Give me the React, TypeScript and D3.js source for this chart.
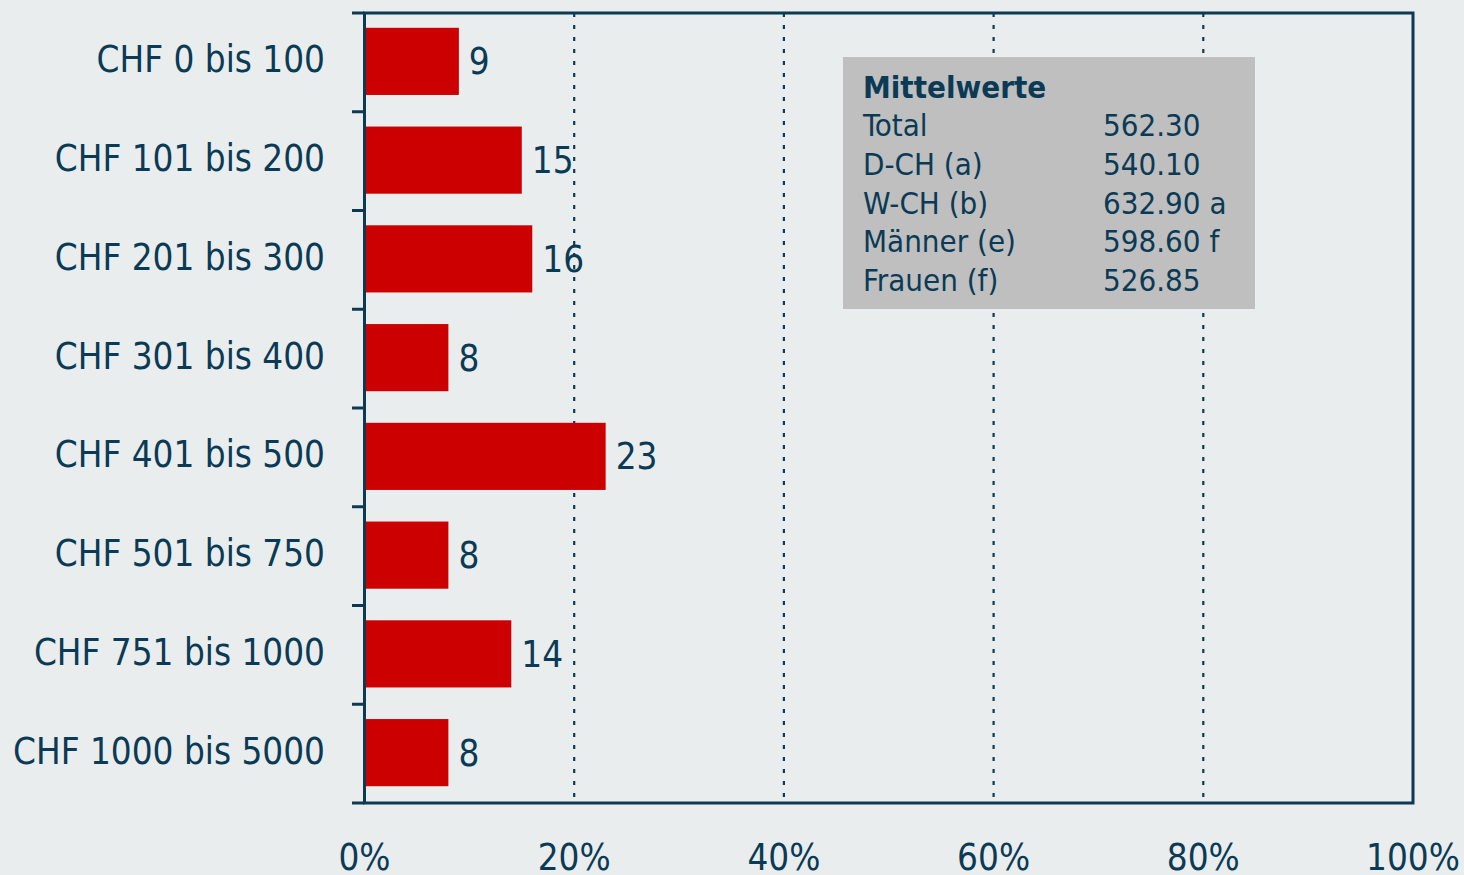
import React from "react";
import * as d3 from "d3";

const categories = [
  "CHF 0 bis 100",
  "CHF 101 bis 200",
  "CHF 201 bis 300",
  "CHF 301 bis 400",
  "CHF 401 bis 500",
  "CHF 501 bis 750",
  "CHF 751 bis 1000",
  "CHF 1000 bis 5000",
];
const values = [9, 15, 16, 8, 23, 8, 14, 8];
const xTicks = [0, 20, 40, 60, 80, 100];
const legendTitle = "Mittelwerte";
const legendLabels = ["Total", "D-CH (a)", "W-CH (b)", "Männer (e)", "Frauen (f)"];
const legendValues = ["562.30", "540.10", "632.90 a", "598.60 f", "526.85"];

const W = 1464;
const H = 875;
const left = 364.5;
const right = 1413;
const top = 13;
const bottom = 803;
const TEXT = "#0b3a55";
const LINE = "#0d3a52";
const FONT = "'DejaVu Sans Condensed', 'DejaVu Sans', sans-serif";

export default function App() {
  const x = d3.scaleLinear().domain([0, 100]).range([left, right]);
  const y = d3
    .scaleBand<string>()
    .domain(categories)
    .range([top, bottom])
    .paddingInner(0.32)
    .paddingOuter(0.16);
  const boundaries = d3.range(categories.length + 1).map((i) => top + i * ((bottom - top) / categories.length));
  const yc = (c: string) => (y(c) as number) + y.bandwidth() / 2 - 1;

  return (
    <svg
      width={W}
      height={H}
      style={{ position: "absolute", left: 0, top: 0, background: "#e9edee", fontFamily: FONT, fontStretch: "condensed" }}
    >
      <rect x={0} y={0} width={W} height={H} fill="#e9edee" />
      {xTicks.slice(1, -1).map((t) => (
        <line
          key={t}
          x1={x(t)}
          x2={x(t)}
          y1={top}
          y2={bottom}
          stroke={LINE}
          strokeWidth={2.2}
          strokeDasharray="4,8"
        />
      ))}
      {categories.map((c, i) => (
        <g key={c}>
          <rect x={x(0)} y={(y(c) as number) - 1} width={x(values[i]) - x(0)} height={y.bandwidth()} fill="#cc0000" />
          <text x={x(values[i]) + 10} y={yc(c) + 13} fontSize={36.5} fill={TEXT}>
            {values[i]}
          </text>
          <text x={325} y={yc(c) + 11} fontSize={36.5} fill={TEXT} textAnchor="end">
            {c}
          </text>
        </g>
      ))}
      <rect x={left} y={top} width={right - left} height={bottom - top} fill="none" stroke={LINE} strokeWidth={3} />
      {boundaries.map((b, i) => (
        <line key={i} x1={352} x2={left} y1={b} y2={b} stroke={LINE} strokeWidth={3} />
      ))}
      {xTicks.map((t) => (
        <text key={t} x={x(t)} y={870} fontSize={36.5} fill={TEXT} textAnchor="middle">
          {t}%
        </text>
      ))}
      <rect x={843} y={57} width={412} height={252} fill="#bfbfbf" />
      <text x={863} y={98} fontSize={31} fontWeight="bold" fill={TEXT}>
        {legendTitle}
      </text>
      {legendLabels.map((l, i) => (
        <g key={l}>
          <text x={863} y={136 + i * 38.8} fontSize={31} fill={TEXT}>
            {l}
          </text>
          <text x={1103} y={136 + i * 38.8} fontSize={31} fill={TEXT}>
            {legendValues[i]}
          </text>
        </g>
      ))}
    </svg>
  );
}
